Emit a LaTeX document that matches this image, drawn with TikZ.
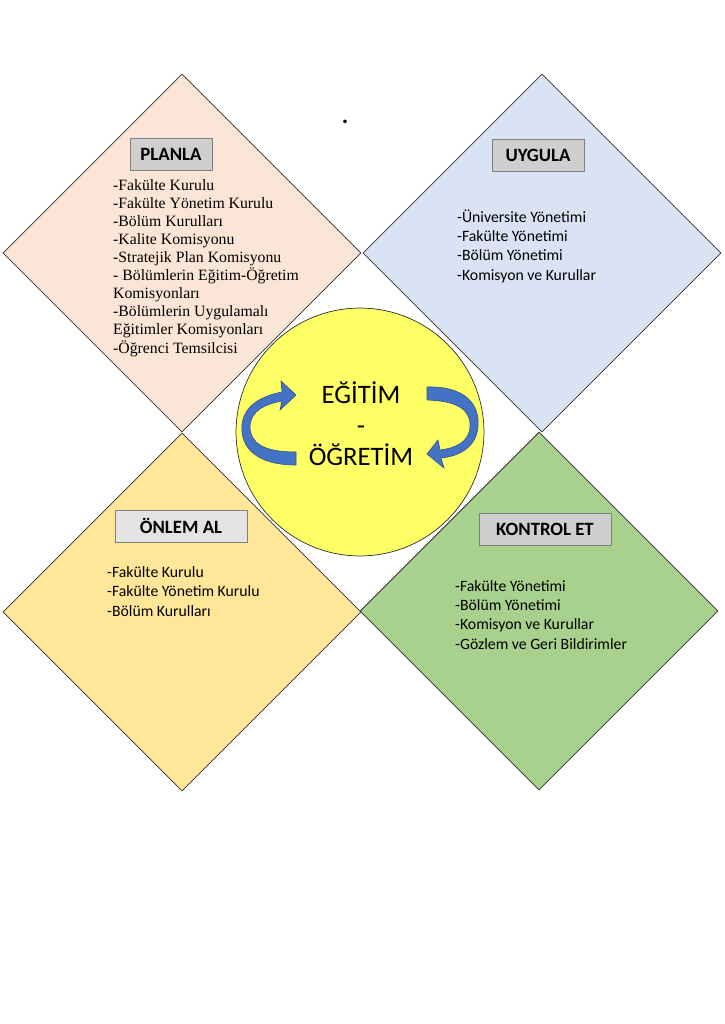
\documentclass[tikz,border=0pt]{standalone}
\usepackage{fontspec}
\setmainfont{Carlito}
\newfontfamily\timesfont{Liberation Serif}
\usetikzlibrary{shapes,backgrounds,positioning}
\definecolor{planfill}{HTML}{FBE5D6}
\definecolor{uygfill}{HTML}{DAE3F3}
\definecolor{onlfill}{HTML}{FFE699}
\definecolor{konfill}{HTML}{A9D18E}
\definecolor{hubfill}{HTML}{FFFF66}
\definecolor{arrowblue}{HTML}{4472C4}
\definecolor{arrowedge}{HTML}{2F528F}
\tikzstyle{quadrant} = [draw=black!80, diamond, aspect=1, inner sep=0pt, minimum width=10.38cm, minimum height=10.38cm, line width=0.6pt]
\tikzstyle{titlebox} = [draw=black!50, fill=black!19, minimum height=0.93cm, inner sep=0pt, line width=0.6pt, font=\fontsize{15.5}{18}\selectfont\bfseries]
\tikzstyle{itemlist} = [anchor=base west, align=left, inner sep=0pt, font=\fontsize{13}{15.9}\selectfont]
\tikzstyle{itemlisttimes} = [anchor=base west, align=left, inner sep=0pt, font=\timesfont\fontsize{13}{14.9}\selectfont]
\tikzstyle{hub} = [circle, draw=black!80, fill=hubfill, minimum size=7.19cm, inner sep=0pt, line width=0.6pt]
\tikzstyle{loopshape} = [fill=arrowblue, draw=arrowedge, line width=0.5pt]
\newcommand{\quadrant}[2]{node (q#1) [quadrant, fill=#2] {}}
\newcommand{\titlebox}[3]{node (h#1) [titlebox, minimum width=#2] {#3}}
\newcommand{\itemlist}[2]{node (l#1) [itemlist] {#2}}
\begin{document}
\begin{tikzpicture}[x=0.029cm,y=-0.029cm]
\useasboundingbox (0,0) rectangle (724,1024);
\path (182,253) \quadrant{1}{planfill};
\path (q1)+(360,0) \quadrant{2}{uygfill};
\path (q1)+(0,359) \quadrant{3}{onlfill};
\path (q2)+(-3,358) \quadrant{4}{konfill};

\path (q1)+(-11,-99) \titlebox{1}{2.38cm}{PLANLA};
\path (q2)+(-4,-98) \titlebox{2}{2.67cm}{UYGULA};
\path (q3)+(-1,-86) node (h3) [titlebox, minimum width=3.83cm, fill=black!11] {ÖNLEM AL};
\path (q4)+(6,-82) \titlebox{4}{3.83cm}{KONTROL ET};

% lists sit on the baseline of their last line
\path (q1)+(-69,100) node (l1) [itemlisttimes] {-Fakülte Kurulu\\-Fakülte Yönetim Kurulu\\-Bölüm Kurulları\\-Kalite Komisyonu\\-Stratejik Plan Komisyonu\\- Bölümlerin Eğitim-Öğretim\\Komisyonları\\-Bölümlerin Uygulamalı\\Eğitimler Komisyonları\\-Öğrenci Temsilcisi};
\path (q2)+(-85,27) \itemlist{2}{-Üniversite Yönetimi\\-Fakülte Yönetimi\\-Bölüm Yönetimi\\-Komisyon ve Kurullar};
\path (q3)+(-75,4) \itemlist{3}{-Fakülte Kurulu\\-Fakülte Yönetim Kurulu\\-Bölüm Kurulları};
\path (q4)+(-84,38) \itemlist{4}{-Fakülte Yönetimi\\-Bölüm Yönetimi\\-Komisyon ve Kurullar\\-Gözlem ve Geri Bildirimler};

\path (360,432) node (c1) [hub] {};
\path (c1)+(1,-8) node (c2) [align=center, font=\fontsize{22}{25.5}\selectfont] {EĞİTİM\\-\\ÖĞRETİM};

% curved arrows round the centre
\path [loopshape] (296,465) .. controls (256,465) and (240,447) .. (242,425)
  .. controls (244,405) and (262,396) .. (282,392) -- (281,381) -- (296,395) -- (280,410) -- (282,401)
  .. controls (266,404) and (251,410) .. (250,426) .. controls (250,443) and (263,452) .. (296,452) -- cycle;
\path [loopshape] (427,387) .. controls (466,386) and (480,405) .. (478,427)
  .. controls (476,447) and (460,456) .. (441,458) -- (444,468) -- (427,454) -- (438,440) -- (440,450)
  .. controls (456,448) and (469,442) .. (470,427) .. controls (471,410) and (458,401) .. (427,400) -- cycle;

\path (345,122) node (d1) [font=\fontsize{20}{20}\selectfont\bfseries] {.};
\end{tikzpicture}
\end{document}
